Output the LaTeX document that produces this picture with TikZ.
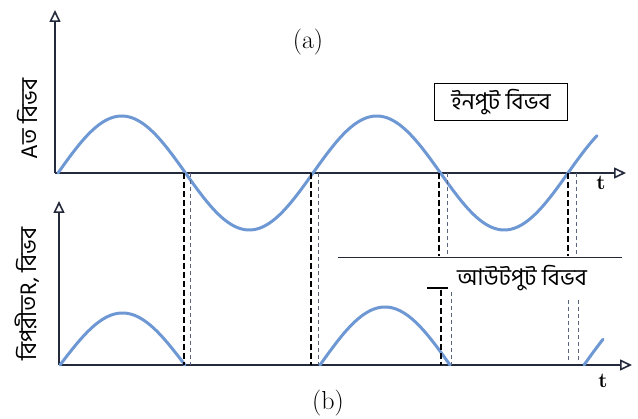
\documentclass[tikz,border=0pt]{standalone}
\usepackage{fontspec}
\newfontfamily\bn[Script=Bengali]{Hind Siliguri}
\usetikzlibrary{arrows.meta}
\definecolor{axiscol}{RGB}{35,42,60}
\definecolor{wavecol}{RGB}{110,152,212}
\definecolor{dashlight}{RGB}{90,100,125}
\tikzset{
  axis/.style={draw=axiscol, line width=2.6pt, -{Triangle[open,length=12pt,width=11pt,line width=1.6pt]}},
  wave/.style={draw=wavecol, line width=3pt, line cap=round},
  dashdark/.style={draw=black, line width=1.3pt, dash pattern=on 6pt off 3pt},
  dashlite/.style={draw=dashlight, line width=0.9pt, dash pattern=on 4pt off 3pt},
  lbl/.style={font=\bn\fontsize{23}{26}\selectfont, inner sep=2pt},
  sidelbl/.style={font=\bn\fontsize{23}{26}\selectfont, rotate=90, inner sep=0pt}
}
\begin{document}
\begin{tikzpicture}[x=1pt,y=-1pt]
\useasboundingbox (0,0) rectangle (638,419);
\fill[white] (0,0) rectangle (638,419);
% ---------- top graph (a)
\coordinate (ao) at (55,173);
\coordinate (atop) at (55,10);
\coordinate (aend) at (626,173);
\draw[axis] (ao) -- (atop);
\draw[axis] (ao) -- (aend);
\draw[wave] plot[domain=58:597,samples=220] (\x,{173-57*sin(((\x-58)/127.5)*180)});
\node[font=\fontsize{26}{30}\selectfont] (la) at (308,42) {(a)};
\node[lbl, draw=black, line width=1.4pt, minimum width=133pt, minimum height=37pt] (inp) at (501,102) {ইনপুট বিভব};
\node[font=\fontsize{21}{24}\selectfont\bfseries] (ta) at (601,183) {t};
\node[sidelbl] (ya) at (27,119) {Aত বিভব};
% ---------- bottom graph (b)
\coordinate (bo) at (59,365);
\coordinate (btop) at (59,201);
\coordinate (bend) at (632,365);
\draw[axis] (bo) -- (btop);
\draw[axis] (bo) -- (bend);
\draw[wave] plot[domain=60:185,samples=80] (\x,{365-52*sin(((\x-60)/125)*180)});
\draw[wave] plot[domain=320:450,samples=80] (\x,{365-58*sin(((\x-320)/130)*180)});
\draw[wave] plot[domain=584:603,samples=20] (\x,{365-58*sin(((\x-584)/130)*180)});
\node[font=\fontsize{26}{30}\selectfont] (lb) at (328,403) {(b)};
\node[font=\fontsize{21}{24}\selectfont\bfseries] (tb) at (603,381) {t};
\node[sidelbl] (yb) at (27,294) {বিপরীত\textit{R}, বিভব};
\node[lbl] (outp) at (522,278) {আউটপুট বিভব};
\coordinate (ol1) at (427,288);
\coordinate (ol2) at (448,288);
\draw[line width=1.3pt] (ol1) -- (ol2);
% horizontal separator line
\coordinate (h1) at (338,258);
\coordinate (h2) at (622,258);
\draw[line width=1pt, draw=axiscol] (h1) -- (h2);
% ---------- dashed projection lines
\coordinate (d1t) at (184,173); \coordinate (d1b) at (184,365);
\coordinate (d2t) at (190,173); \coordinate (d2b) at (190,365);
\coordinate (d3t) at (311,173); \coordinate (d3b) at (311,365);
\coordinate (d4t) at (318,173); \coordinate (d4b) at (318,365);
\draw[dashdark] (d1t) -- (d1b);
\draw[dashlite] (d2t) -- (d2b);
\draw[dashdark] (d3t) -- (d3b);
\draw[dashlite] (d4t) -- (d4b);
\coordinate (d5t) at (439,173); \coordinate (d5b) at (439,256);
\coordinate (d6t) at (447,173); \coordinate (d6b) at (447,256);
\coordinate (d7t) at (441,290); \coordinate (d7b) at (441,365);
\coordinate (d8t) at (451,292); \coordinate (d8b) at (451,365);
\draw[dashdark] (d5t) -- (d5b);
\draw[dashlite] (d6t) -- (d6b);
\draw[dashdark] (d7t) -- (d7b);
\draw[dashlite] (d8t) -- (d8b);
\coordinate (d9t) at (568,173); \coordinate (d9b) at (568,256);
\coordinate (d10t) at (576,173); \coordinate (d10b) at (576,256);
\coordinate (d11t) at (568,300); \coordinate (d11b) at (568,362);
\coordinate (d12t) at (578,300); \coordinate (d12b) at (578,362);
\draw[dashdark] (d9t) -- (d9b);
\draw[dashlite] (d10t) -- (d10b);
\draw[dashlite] (d11t) -- (d11b);
\draw[dashlite] (d12t) -- (d12b);
\end{tikzpicture}
\end{document}
